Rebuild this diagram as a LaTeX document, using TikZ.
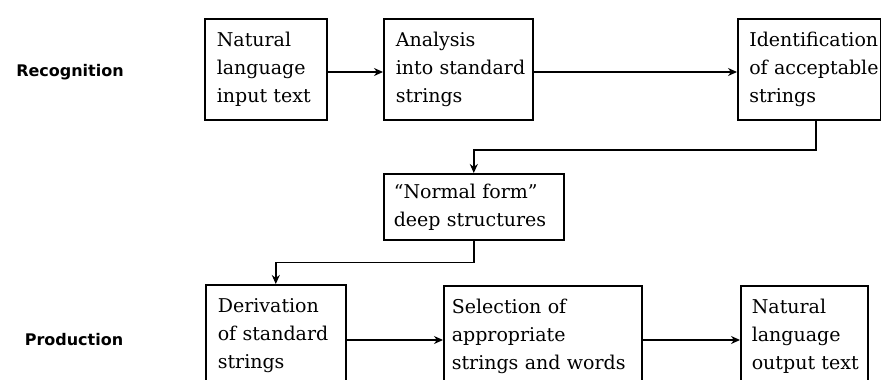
\documentclass[tikz,border=0pt]{standalone}
\usepackage{fontspec}
\setmainfont{DejaVu Serif}
\newfontfamily\labfont{DejaVu Sans}
\usepackage{tikz}
\usetikzlibrary{arrows.meta}

\tikzset{
  stage/.style={draw, line width=1.6pt, anchor=north west, align=left,
    inner xsep=12pt, inner ysep=0pt,
    font={\fontsize{19}{28}\selectfont\hyphenpenalty=10000\hbadness=10000}},
  flow/.style={line width=1.4pt, -{Stealth[length=9pt,width=8pt]}},
  lab/.style={font={\labfont\bfseries\fontsize{16}{19}\selectfont}}
}

\begin{document}
\begin{tikzpicture}[x=1pt,y=1pt,yscale=-1]
\clip (0,0) rectangle (881,380);

% Text Node
\node[lab] (rec) at (70,72) {Recognition};
% Text Node
\node[lab] (prod) at (74,340) {Production};

%Shape: Rectangle
\node[stage, minimum width=122, minimum height=101, text width=98] (in) at (204,18) {Natural\\language\\input~text};
%Shape: Rectangle
\node[stage, minimum width=149, minimum height=101, text width=125] (ana) at (383,18) {Analysis\\into~standard\\strings};
%Shape: Rectangle
\node[stage, minimum width=143, minimum height=101, text width=120, inner xsep=11pt] (ident) at (737,18) {Identification\\of~acceptable\\strings};
%Shape: Rectangle
\node[stage, minimum width=180, minimum height=66, text width=160, inner xsep=10pt] (norm) at (383,173) {``Normal~form''\\deep~structures};
%Shape: Rectangle
\node[stage, minimum width=140, minimum height=101, text width=116] (der) at (205,284) {Derivation\\of~standard\\strings};
%Shape: Rectangle
\node[stage, minimum width=198, minimum height=101, text width=182, inner xsep=8pt] (sel) at (443,285) {Selection~of\\appropriate\\strings~and~words};
%Shape: Rectangle
\node[stage, minimum width=127, minimum height=101, text width=105, inner xsep=11pt] (out) at (740,285) {Natural\\language\\output~text};

\coordinate (r1) at (0,72);
\coordinate (r2) at (0,340);
\coordinate (k1) at (816,150);

%Straight Lines
\draw[flow] (in.east |- r1) -- (ana.west |- r1);
\draw[flow] (ana.east |- r1) -- (ident.west |- r1);
\draw[flow] (ident.south -| k1) -- (k1) -| (norm.north);
\draw[flow] (norm.south) -- ++(0,22) -| (der.north);
\draw[flow] (der.east |- r2) -- (sel.west |- r2);
\draw[flow] (sel.east |- r2) -- (out.west |- r2);

\end{tikzpicture}
\end{document}
